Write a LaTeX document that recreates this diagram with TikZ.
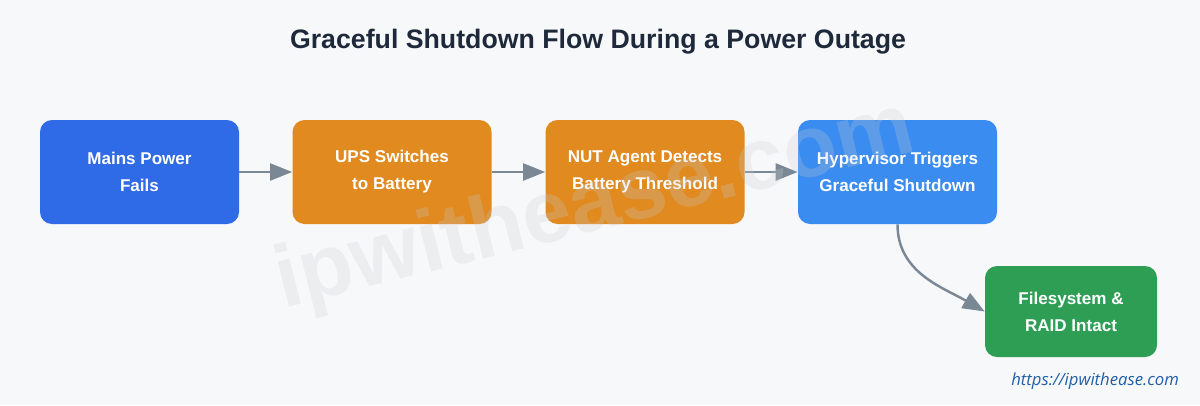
\documentclass[tikz,border=0pt]{standalone}
\usepackage{fontspec}
\setmainfont{Liberation Sans}
\newfontfamily\linkfont{Open Sans}
\usepackage{tikz}
\usetikzlibrary{arrows.meta,positioning,calc}
\definecolor{bgpage}{HTML}{F7F8FA}
\definecolor{ink}{HTML}{1E2A3B}
\definecolor{mainsblue}{HTML}{2F6BE6}
\definecolor{hypblue}{HTML}{3B8CF0}
\definecolor{upsorange}{HTML}{E08A1F}
\definecolor{okgreen}{HTML}{2E9E55}
\definecolor{flow}{HTML}{7A8896}
\definecolor{linkblue}{HTML}{1F5FA8}
\definecolor{wmgray}{HTML}{C9CDD2}

\begin{document}
\begin{tikzpicture}[
  >={Triangle[length=0.44cm,width=0.34cm]},
  stage/.style={rounded corners=0.24cm, minimum width=3.98cm, minimum height=2.08cm,
    align=center, text=white, font=\fontsize{9.7}{15.3}\selectfont\bfseries},
  flowline/.style={->, flow, line width=1.4pt}
]

% ---------- page ----------
\fill[bgpage] (0,0) rectangle (24,8.1);
\useasboundingbox (0,0) rectangle (24,8.1);

\node[ink, font=\fontsize{15.2}{18}\selectfont\bfseries] (title) at (11.96,7.26)
  {Graceful Shutdown Flow During a Power Outage};

% ---------- the chain ----------
\node[stage, fill=mainsblue] (mains) at (2.79,4.66) {Mains Power\\Fails};
\node[stage, fill=upsorange] (ups)   at (7.84,4.66) {UPS Switches\\to Battery};
\node[stage, fill=upsorange] (nut)   at (12.90,4.66) {NUT Agent Detects\\Battery Threshold};
\node[stage, fill=hypblue]   (hyper) at (17.95,4.66) {Hypervisor Triggers\\Graceful Shutdown};
\node[stage, fill=okgreen, minimum width=3.44cm, minimum height=1.82cm]
  (disk) at (21.42,1.87) {Filesystem \&\\RAID Intact};

\draw[flowline] (mains) -- (ups);
\draw[flowline] (ups) -- (nut);
\draw[flowline] (nut) -- (hyper);
\draw[flowline] (hyper.south) to[out=-90,in=150] (disk.west);

% ---------- watermark and link ----------
\node[wmgray, opacity=0.25, rotate=14, font=\fontsize{50}{50}\selectfont\bfseries]
  (wmark) at (11.9,3.95) {ipwithease.com};
\node[anchor=east, linkblue, font=\linkfont\itshape\fontsize{9.5}{11}\selectfont]
  (link) at (23.7,0.48) {https://ipwithease.com};
\end{tikzpicture}
\end{document}
